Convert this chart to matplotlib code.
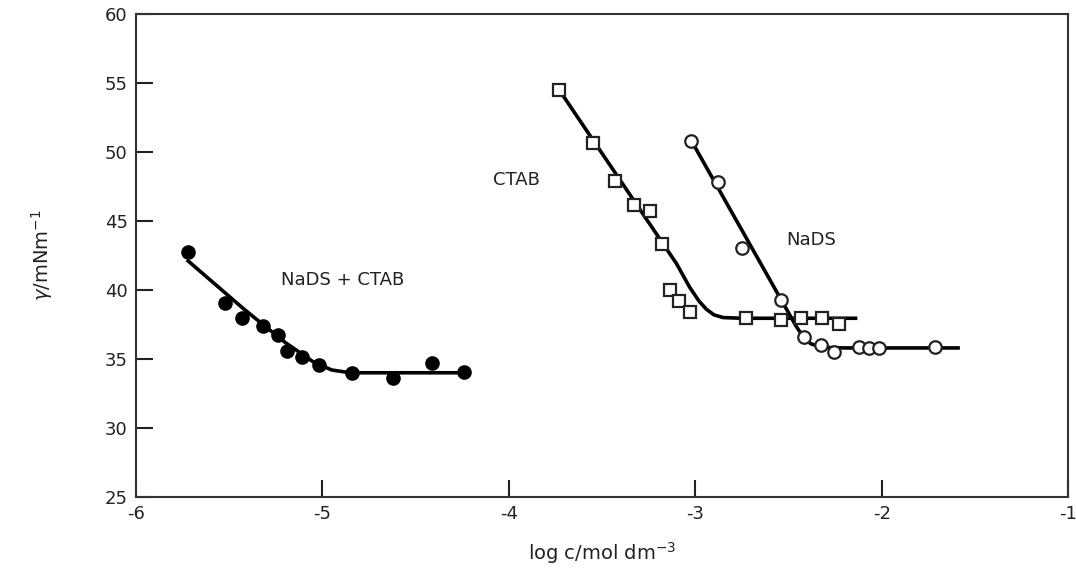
import numpy as np
import matplotlib
matplotlib.use("Agg")
import matplotlib.pyplot as plt

# Puntos medidos: NaDS + CTAB (circulos llenos)
mix_logc = [-5.72, -5.52, -5.43, -5.32, -5.24, -5.19, -5.11, -5.02, -4.84, -4.62, -4.41, -4.24]
mix_gamma = [42.75, 39.06, 37.97, 37.4, 36.74, 35.6, 35.14, 34.57, 33.99, 33.62, 34.71, 34.06]

# CTAB (cuadrados abiertos)
ctab_logc = [-3.73, -3.55, -3.43, -3.33, -3.245, -3.176, -3.138, -3.085, -3.026, -2.73, -2.54, -2.43, -2.32, -2.23]
ctab_gamma = [54.5, 50.65, 47.9, 46.16, 45.72, 43.33, 40.0, 39.2, 38.4, 38.0, 37.8, 37.95, 37.95, 37.5]

# NaDS (circulos abiertos)
nads_logc = [-3.02, -2.876, -2.747, -2.538, -2.415, -2.324, -2.254, -2.12, -2.066, -2.013, -1.713]
nads_gamma = [50.8, 47.83, 43.04, 39.28, 36.59, 36.01, 35.51, 35.87, 35.8, 35.8, 35.87]

# Curvas trazadas a mano en la figura original (puntos leidos sobre la linea)
mix_line_x = [-5.72, -5.42, -5.2, -5.05, -4.95, -4.85, -4.24]
mix_line_y = [42.1, 38.6, 36.2, 34.8, 34.2, 34.0, 34.0]

ctab_line_x = [-3.72, -3.40, -3.10, -3.03, -2.98, -2.94, -2.90, -2.85, -2.75, -2.14]
ctab_line_y = [54.3, 47.9, 41.9, 40.2, 39.2, 38.6, 38.2, 38.0, 37.95, 37.95]

nads_line_x = [-3.02, -2.46, -2.42, -2.38, -2.32, -2.2, -1.59]
nads_line_y = [50.8, 37.4, 36.6, 36.1, 35.85, 35.8, 35.8]

fig = plt.figure(figsize=(10.76, 5.75), dpi=100)
ax = fig.add_axes([0.1264, 0.1357, 0.8662, 0.8400])

ax.plot(mix_line_x, mix_line_y, color='black', lw=2.6, zorder=2)
ax.plot(ctab_line_x, ctab_line_y, color='black', lw=2.6, zorder=2)
ax.plot(nads_line_x, nads_line_y, color='black', lw=2.6, zorder=2)

ax.plot(mix_logc, mix_gamma, 'o', color='black', ms=9.5, zorder=3, linestyle='none')
ax.plot(ctab_logc, ctab_gamma, 's', mfc='white', mec='#222222', mew=1.6, ms=9, zorder=3, linestyle='none')
ax.plot(nads_logc, nads_gamma, 'o', mfc='white', mec='#222222', mew=1.6, ms=9, zorder=3, linestyle='none')

ax.text(-4.89, 40.7, 'NaDS + CTAB', fontsize=13, ha='center', va='center', color='#222222')
ax.text(-3.96, 48.0, 'CTAB', fontsize=13, ha='center', va='center', color='#222222')
ax.text(-2.38, 43.6, 'NaDS', fontsize=13, ha='center', va='center', color='#222222')

ax.set_xlim(-6, -1)
ax.set_ylim(25, 60)
ax.set_xticks([-6, -5, -4, -3, -2, -1])
ax.set_yticks([25, 30, 35, 40, 45, 50, 55, 60])
ax.set_xticklabels(['-6', '-5', '-4', '-3', '-2', '-1'])
ax.tick_params(direction='in', length=12, width=1.5, labelsize=13, colors='#222222', pad=6)
for s in ax.spines.values():
    s.set_linewidth(1.5)
    s.set_color('#333333')

ax.set_xlabel('log c/mol dm$^{-3}$', fontsize=14, labelpad=12, color='#222222')
ax.set_ylabel('$\\gamma$/mNm$^{-1}$', fontsize=14, labelpad=36, color='#222222')

fig.savefig('out.png', dpi=100)
